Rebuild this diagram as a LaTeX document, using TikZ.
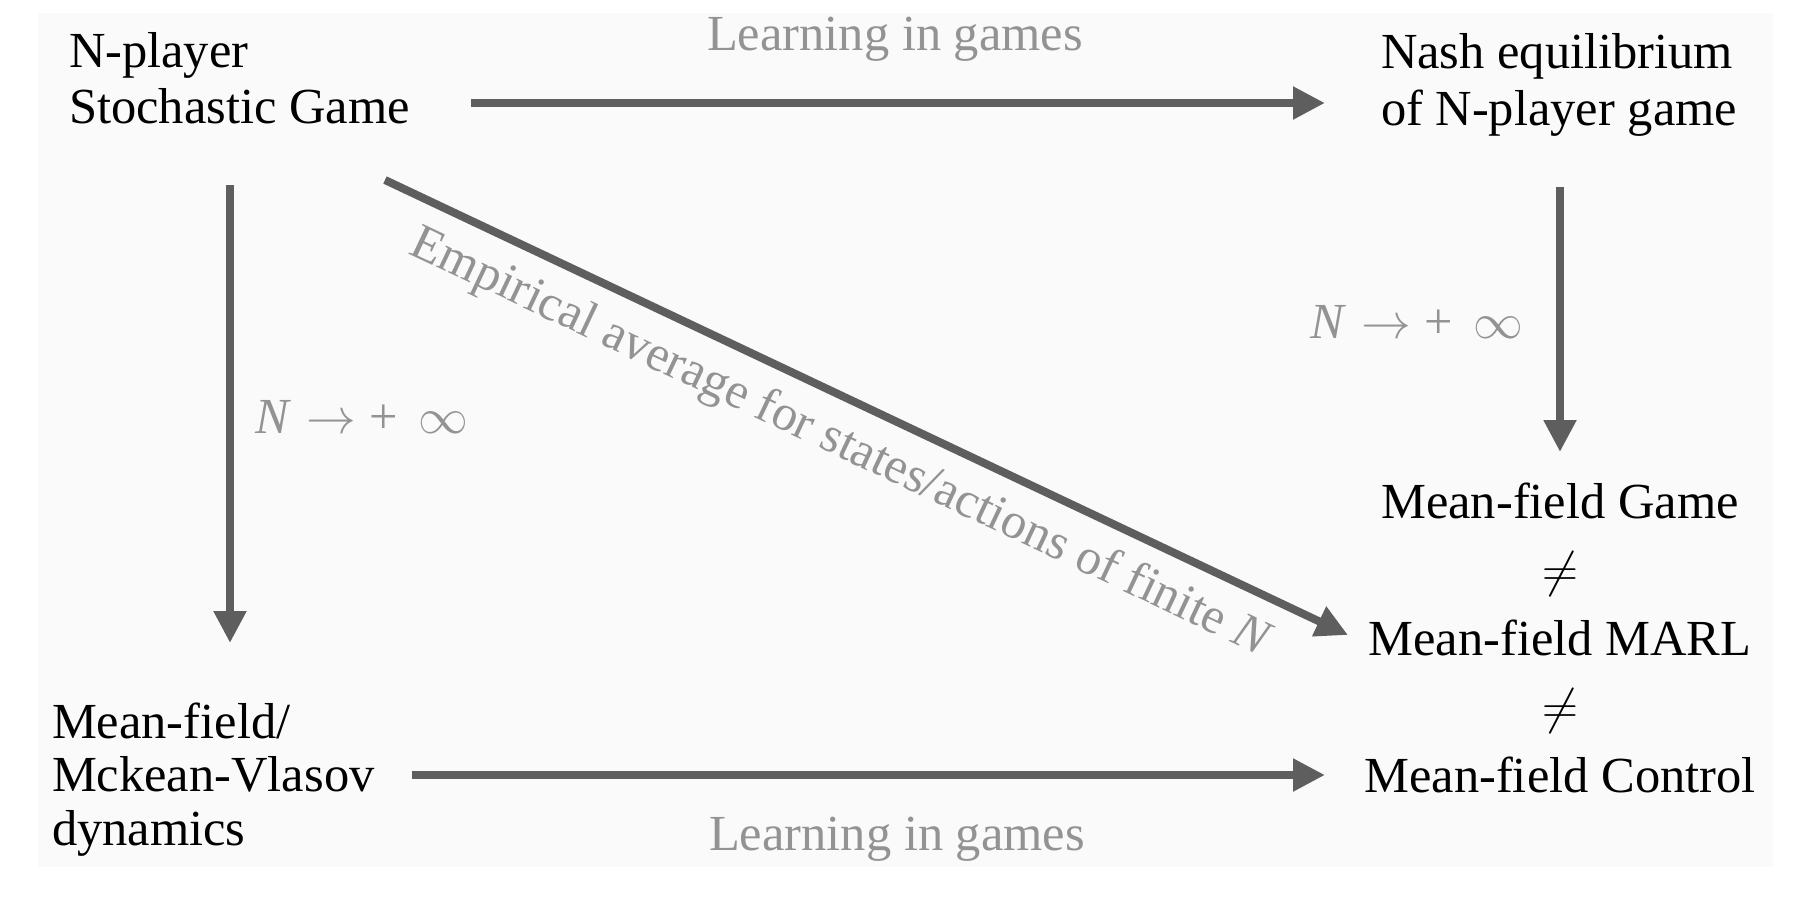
\documentclass[tikz,border=0pt]{standalone}
\usepackage{fontspec}
\setmainfont{Liberation Serif}
\usetikzlibrary{arrows.meta}
\definecolor{bgc}{HTML}{FAFAFA}
\definecolor{arrc}{HTML}{5E5E5E}
\definecolor{lblc}{HTML}{939393}
\tikzset{
  box/.style={inner sep=0pt, outer sep=0pt, text=black},
  lbl/.style={inner sep=0pt, outer sep=0pt, text=lblc, font=\fontsize{25.25}{28}\selectfont},
  arr/.style={draw=arrc, line width=4pt, -{Triangle[length=16pt,width=15.5pt]}},
}
\newcommand{\Ninf}{\textit{N}\hspace{7.5pt}$\rightarrow$\hspace{7pt}+\hspace{10pt}$\infty$}
\begin{document}
\begin{tikzpicture}[x=0.5pt,y=-0.5pt]
\useasboundingbox (0,0) rectangle (1805,896);
\fill[bgc] (38,13) rectangle (1773,867);
% nodes (base anchor = baseline of last line)
\node[box, align=left, anchor=base west, font=\fontsize{25.25}{28}\selectfont] (A) at (69,123) {N-player\\Stochastic Game};
\node[box, align=left, anchor=base west, font=\fontsize{25.25}{28.5}\selectfont] (B) at (1381,125) {Nash equilibrium\\of N-player game};
\node[box, align=center, anchor=base, font=\fontsize{25.25}{34.25}\selectfont] (C) at (1560,792) {Mean-field Game\\$\neq$\\Mean-field MARL\\$\neq$\\Mean-field Control};
\node[box, align=left, anchor=base west, font=\fontsize{25.25}{26.75}\selectfont] (D) at (52,845) {Mean-field/\\Mckean-Vlasov\\dynamics};
% connector ends
\coordinate (a1) at (471,103);
\coordinate (b1) at (1325,103);
\coordinate (a2) at (230,185);
\coordinate (d1) at (230,643);
\coordinate (a3) at (385,180);
\coordinate (c1) at (1348,635);
\coordinate (b2) at (1560,187);
\coordinate (c2) at (1560,452);
\coordinate (d2) at (412,775);
\coordinate (c3) at (1325,775);
\draw[arr] (a1) -- (b1);
\draw[arr] (a2) -- (d1);
\draw[arr] (a3) -- (c1);
\draw[arr] (b2) -- (c2);
\draw[arr] (d2) -- (c3);
% labels
\node[lbl, anchor=base] (l1) at (895,50) {Learning in games};
\node[lbl, anchor=base] (l2) at (897,850) {Learning in games};
\node[lbl, anchor=base west] (l3) at (255,433) {\Ninf};
\node[lbl, anchor=base west] (l4) at (1310,338) {\Ninf};
\node[lbl, anchor=base, rotate=-25.3] (l5) at (835,455) {Empirical average for states/actions of finite \textit{N}};
\end{tikzpicture}
\end{document}
